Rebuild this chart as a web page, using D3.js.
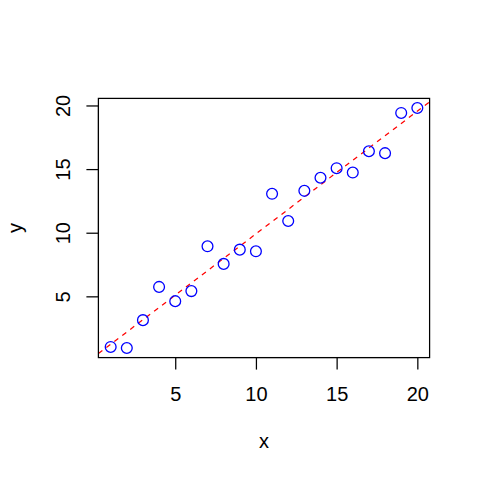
<!DOCTYPE html>
<html>
<head>
<meta charset="utf-8">
<script src="https://cdn.jsdelivr.net/npm/d3@7"></script>
<style>
  body { margin: 0; background: #fff; }
  svg text { font-family: "Liberation Sans", Arial, sans-serif; font-size: 20px; fill: #000; }
</style>
</head>
<body>
<div id="chart"></div>
<script>
// Data
var xValues = [1, 2, 3, 4, 5, 6, 7, 8, 9, 10, 11, 12, 13, 14, 15, 16, 17, 18, 19, 20];
var yValues = [1.06, 0.98, 3.17, 5.78, 4.66, 5.45, 8.97, 7.59, 8.71, 8.58,
               13.10, 10.96, 13.33, 14.36, 15.11, 14.77, 16.44, 16.29, 19.45, 19.84];
var xTicks = [5, 10, 15, 20];
var yTicks = [5, 10, 15, 20];

//Width and height
var w = 480;
var h = 480;
var lineH = 24;
var plotLeft = 4.1 * lineH, plotRight = w - 2.1 * lineH;
var plotTop = 4.1 * lineH, plotBottom = h - 5.1 * lineH;

//R style 4% range extension
function ext(arr) {
  var lo = d3.min(arr), hi = d3.max(arr), d = (hi - lo) * 0.04;
  return [lo - d, hi + d];
}

var xScale = d3.scaleLinear().domain(ext(xValues)).range([plotLeft, plotRight]);
var yScale = d3.scaleLinear().domain(ext(yValues)).range([plotBottom, plotTop]);

var svg = d3.select("#chart")
  .append("svg")
  .attr("width", w)
  .attr("height", h);

//Least squares fit for the dashed line
var mx = d3.mean(xValues), my = d3.mean(yValues);
var sxy = d3.sum(xValues, function(d, i) { return (d - mx) * (yValues[i] - my); });
var sxx = d3.sum(xValues, function(d) { return (d - mx) * (d - mx); });
var slope = sxy / sxx;
var intercept = my - slope * mx;

svg.append("clipPath")
  .attr("id", "plotclip")
  .append("rect")
  .attr("x", plotLeft).attr("y", plotTop)
  .attr("width", plotRight - plotLeft).attr("height", plotBottom - plotTop);

var xd = xScale.domain();
svg.append("line")
  .attr("clip-path", "url(#plotclip)")
  .attr("x1", xScale(xd[0])).attr("y1", yScale(intercept + slope * xd[0]))
  .attr("x2", xScale(xd[1])).attr("y2", yScale(intercept + slope * xd[1]))
  .attr("stroke", "#ff0000")
  .attr("stroke-width", 1.25)
  .attr("stroke-dasharray", "5,5");

//Points
svg.selectAll("circle")
  .data(xValues)
  .enter()
  .append("circle")
  .attr("cx", function(d) { return xScale(d); })
  .attr("cy", function(d, i) { return yScale(yValues[i]); })
  .attr("r", 5.4)
  .attr("fill", "none")
  .attr("stroke", "#0000ff")
  .attr("stroke-width", 1.3);

//Box
svg.append("rect")
  .attr("x", plotLeft).attr("y", plotTop)
  .attr("width", plotRight - plotLeft).attr("height", plotBottom - plotTop)
  .attr("fill", "none")
  .attr("stroke", "#000")
  .attr("stroke-width", 1.25);

//Axes
var xAxis = d3.axisBottom(xScale).tickValues(xTicks).tickSize(12).tickSizeOuter(0);
var yAxis = d3.axisLeft(yScale).tickValues(yTicks).tickSize(12).tickSizeOuter(0);

var gx = svg.append("g")
  .attr("transform", "translate(0," + plotBottom + ")")
  .call(xAxis);
gx.select(".domain")
  .attr("d", "M" + xScale(xTicks[0]) + ",0H" + xScale(xTicks[xTicks.length - 1]));
gx.selectAll("line").attr("stroke-width", 1.25);
gx.selectAll("text").attr("font-size", null).attr("font-family", null).attr("dy", null).attr("y", 43);

var gy = svg.append("g")
  .attr("transform", "translate(" + plotLeft + ",0)")
  .call(yAxis);
gy.select(".domain")
  .attr("d", "M0," + yScale(yTicks[0]) + "V" + yScale(yTicks[yTicks.length - 1]));
gy.selectAll("line").attr("stroke-width", 1.25);
gy.selectAll(".tick").attr("transform", null);
gy.selectAll("line")
  .attr("y1", function(d) { return yScale(d); })
  .attr("y2", function(d) { return yScale(d); });
gy.selectAll("text")
  .attr("font-size", null).attr("font-family", null)
  .attr("x", null).attr("dy", null)
  .attr("text-anchor", "middle")
  .attr("transform", function(d) { return "translate(-28," + yScale(d) + ") rotate(-90)"; });

//Axis titles
svg.append("text")
  .attr("x", (plotLeft + plotRight) / 2)
  .attr("y", 447.5)
  .attr("text-anchor", "middle")
  .text("x");

svg.append("text")
  .attr("text-anchor", "middle")
  .attr("transform", "translate(21.5," + (plotTop + plotBottom) / 2 + ") rotate(-90)")
  .text("y");
</script>
</body>
</html>
